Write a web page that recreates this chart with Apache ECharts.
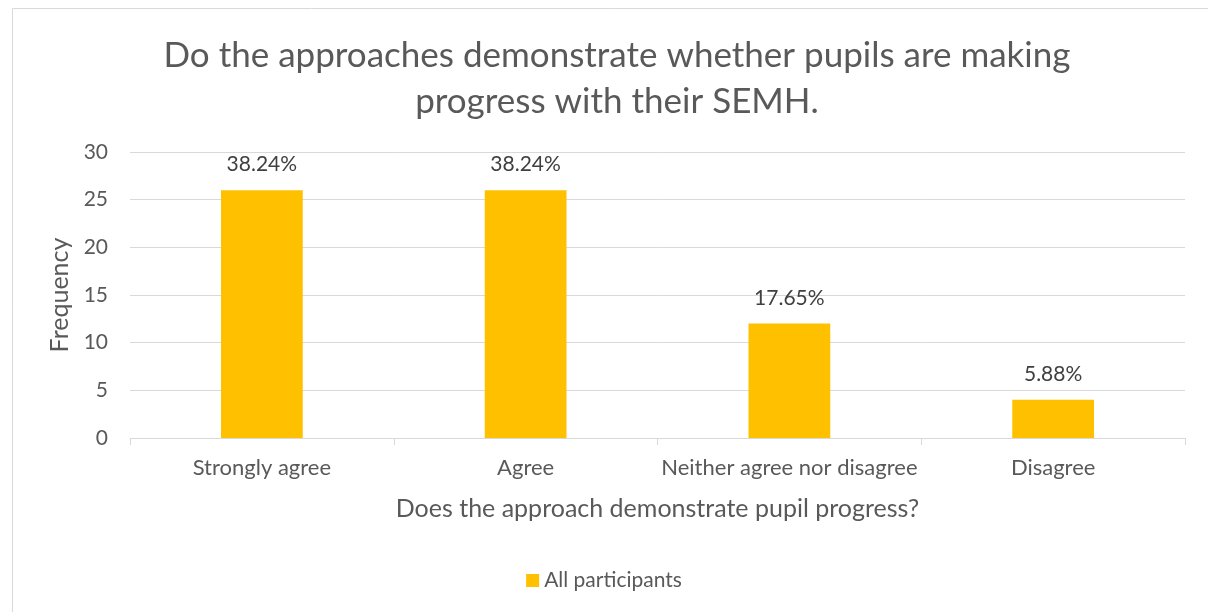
<!DOCTYPE html>
<html><head><meta charset="utf-8">
<script src="https://cdn.jsdelivr.net/npm/echarts@6/dist/echarts.min.js"></script>
<style>html,body{margin:0;padding:0;background:#fff}#c{width:1208px;height:612px}</style>
</head><body><div id="c"></div>
<script>
const categories = ['Strongly agree', 'Agree', 'Neither agree nor disagree', 'Disagree'];
const frequencies = [26, 26, 12, 4];
const percentLabels = ['38.24%', '38.24%', '17.65%', '5.88%'];
const seriesName = 'All participants';
const titleText = 'Do the approaches demonstrate whether pupils are making\nprogress with their SEMH.';
const xAxisTitle = 'Does the approach demonstrate pupil progress?';
const yAxisTitle = 'Frequency';

const FONT = 'Lato, "Open Sans", sans-serif';
const chart = echarts.init(document.getElementById('c'));
chart.setOption({
  animation: false,
  backgroundColor: '#fff',
  graphic: [{type: 'rect', shape: {x: 12.5, y: 8.5, width: 1300, height: 700}, style: {fill: 'none', stroke: '#d9d9d9', lineWidth: 1}}],
  title: {
    text: titleText, left: 612, top: 28, textAlign: 'center',
    textStyle: {fontFamily: FONT, fontSize: 35, fontWeight: 'normal', color: '#595959', lineHeight: 46}
  },
  legend: {
    top: 565, left: 'center', itemWidth: 13, itemHeight: 13, icon: 'rect', itemGap: 5,
    textStyle: {fontFamily: FONT, fontSize: 21, color: '#595959'}
  },
  grid: {left: 130, right: 23, top: 152, bottom: 174},
  xAxis: {
    type: 'category', data: categories,
    name: xAxisTitle, nameLocation: 'middle', nameGap: 58,
    nameTextStyle: {fontFamily: FONT, fontSize: 25, color: '#595959'},
    axisLine: {lineStyle: {color: '#d9d9d9', width: 1}},
    axisTick: {show: true, length: 7, lineStyle: {color: '#d9d9d9'}},
    axisLabel: {interval: 0, fontFamily: FONT, fontSize: 22, color: '#595959', margin: 19}
  },
  yAxis: {
    type: 'value', min: 0, max: 30, interval: 5,
    name: yAxisTitle, nameLocation: 'middle', nameGap: 57, nameRotate: 90,
    nameTextStyle: {fontFamily: FONT, fontSize: 25, color: '#595959'},
    axisLine: {show: false}, axisTick: {show: false},
    axisLabel: {fontFamily: FONT, fontSize: 21, color: '#595959', margin: 22},
    splitLine: {lineStyle: {color: '#d9d9d9', width: 1}}
  },
  series: [{
    name: seriesName, type: 'bar', data: frequencies, barWidth: '31%',
    itemStyle: {color: '#ffc000'},
    label: {
      show: true, position: 'top', distance: 15,
      formatter: p => percentLabels[p.dataIndex],
      fontFamily: FONT, fontSize: 21, color: '#404040'
    }
  }]
});
</script></body></html>
